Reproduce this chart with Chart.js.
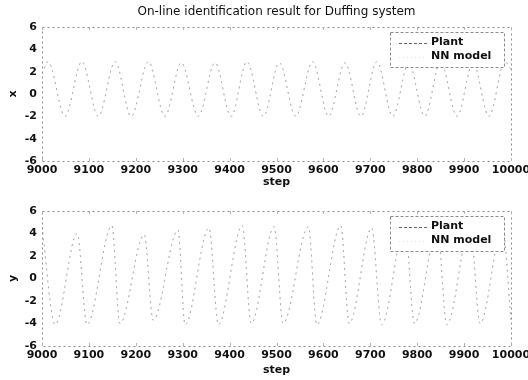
<!DOCTYPE html>
<html>
<head>
<meta charset="utf-8">
<script src="https://cdn.jsdelivr.net/npm/chart.js@4.4.0/dist/chart.umd.min.js"></script>
<style>
  body { margin: 0; background: #fff; }
  #wrap { position: relative; width: 528px; height: 380px; }
  canvas { position: absolute; left: 0; }
</style>
</head>
<body>
<div id="wrap">
  <canvas id="topChart" width="528" height="190" style="top:0"></canvas>
  <canvas id="bottomChart" width="528" height="190" style="top:190px"></canvas>
</div>
<script>
// tick labels
const stepTicks = [9000, 9100, 9200, 9300, 9400, 9500, 9600, 9700, 9800, 9900, 10000];
const valueTicks = [-6, -4, -2, 0, 2, 4, 6];

// x state: turning points
const xSteps = [9000, 9013, 9049, 9085, 9120, 9156, 9190, 9227, 9262, 9297, 9333, 9369, 9403, 9437, 9472, 9506,
                9541, 9577, 9611, 9646, 9680, 9714, 9748, 9782, 9816, 9850, 9885, 9919, 9953, 9987, 10000];
const xPlant = [1.8, 2.9, -2.0, 2.9, -2.0, 2.9, -2.0, 2.9, -2.0, 2.8, -2.0, 2.8, -2.0, 2.9, -2.0, 2.8,
                -2.0, 2.9, -2.0, 2.8, -2.0, 2.9, -2.0, 2.8, -2.0, 2.9, -2.0, 2.8, -2.0, 2.9, 2.2];
const xModel = [1.8, 2.9, -2.0, 2.9, -2.0, 2.9, -2.0, 2.9, -2.0, 2.8, -2.0, 2.8, -2.0, 2.9, -2.0, 2.8,
                -2.0, 2.9, -2.0, 2.8, -2.0, 2.9, -2.0, 2.8, -2.0, 2.9, -2.0, 2.8, -2.0, 2.9, 2.2];

// y state: turning points
const ySteps = [9000, 9028, 9075, 9096, 9149, 9166, 9218, 9237, 9290, 9305, 9356, 9376, 9427, 9446, 9495,
                9514, 9568, 9586, 9637, 9655, 9703, 9724, 9774, 9794, 9843, 9863, 9913, 9934, 9982, 10000];
const yPlant = [4.6, -4.1, 4.0, -4.1, 4.7, -4.0, 3.9, -3.7, 4.3, -4.1, 4.5, -4.1, 4.7, -4.0, 4.6,
                -4.0, 4.6, -4.1, 4.7, -4.0, 4.5, -4.1, 4.6, -4.0, 4.5, -4.1, 4.6, -4.0, 4.5, -3.8];
const yModel = [4.6, -4.1, 4.0, -4.1, 4.7, -4.0, 3.9, -3.7, 4.3, -4.1, 4.5, -4.1, 4.7, -4.0, 4.6,
                -4.0, 4.6, -4.1, 4.7, -4.0, 4.5, -4.1, 4.6, -4.0, 4.5, -4.1, 4.6, -4.0, 4.5, -3.8];

Chart.defaults.font.family = "'DejaVu Sans', sans-serif";
Chart.defaults.color = '#111';
Chart.defaults.animation = false;

function pts(steps, vals) {
    return steps.map((s, i) => ({ x: s, y: vals[i] }));
}

// dotted box round the plot with small inward ticks, title centred over the axes
const boxPlugin = {
    id: 'box',
    afterDatasetsDraw(chart, args, opts) {
        const { ctx, chartArea: a, scales } = chart;
        ctx.save();
        ctx.strokeStyle = '#8c8c8c';
        ctx.lineWidth = 1;
        ctx.setLineDash([2, 3]);
        ctx.strokeRect(a.left + 0.5, a.top + 0.5, a.width, a.height);
        ctx.setLineDash([]);
        ctx.strokeStyle = '#b5b5b5';
        scales.x.ticks.forEach(t => {
            const px = Math.round(scales.x.getPixelForValue(t.value)) + 0.5;
            ctx.beginPath();
            ctx.moveTo(px, a.top); ctx.lineTo(px, a.top + 3);
            ctx.moveTo(px, a.bottom); ctx.lineTo(px, a.bottom - 3);
            ctx.stroke();
        });
        if (opts.text) {
            ctx.font = "12px 'DejaVu Sans'";
            ctx.fillStyle = '#111';
            ctx.textAlign = 'center';
            ctx.textBaseline = 'middle';
            ctx.fillText(opts.text, (a.left + a.right) / 2, 12);
        }
        ctx.restore();
    }
};

// MATLAB style legend box in the upper right corner
const legendPlugin = {
    id: 'boxLegend',
    afterDraw(chart) {
        const { ctx, chartArea: a } = chart;
        const left = a.right - 121, top = a.top + 5, w = 114, h = 35;
        ctx.save();
        ctx.fillStyle = '#fff';
        ctx.fillRect(left, top, w, h);
        ctx.strokeStyle = '#8c8c8c';
        ctx.lineWidth = 1;
        ctx.setLineDash([3, 2]);
        ctx.strokeRect(left + 0.5, top + 0.5, w, h);
        ctx.font = "bold 11px 'DejaVu Sans'";
        ctx.textBaseline = 'middle';
        chart.data.datasets.forEach((ds, i) => {
            const cy = top + 10.5 + i * 14;
            ctx.strokeStyle = ds.legendColor;
            ctx.setLineDash(ds.legendDash);
            ctx.beginPath();
            ctx.moveTo(left + 9, Math.round(cy) + 0.5);
            ctx.lineTo(left + 37, Math.round(cy) + 0.5);
            ctx.stroke();
            ctx.fillStyle = '#111';
            ctx.fillText(ds.label, left + 41, cy);
        });
        ctx.restore();
    }
};

function makeChart(id, steps, plant, model, axisName, opts) {
    new Chart(document.getElementById(id), {
        type: 'line',
        data: {
            datasets: [{
                label: 'Plant',
                data: pts(steps, plant),
                borderColor: '#ababab',
                borderDash: [2, 4],
                legendColor: '#666',
                legendDash: [3, 2],
                borderWidth: 1,
                pointRadius: 0,
                cubicInterpolationMode: 'monotone'
            }, {
                label: 'NN model',
                data: pts(steps, model),
                borderColor: '#cfcfcf',
                borderDash: [1, 5],
                legendColor: '#e0e0e0',
                legendDash: [1, 3],
                borderWidth: 1,
                pointRadius: 0,
                cubicInterpolationMode: 'monotone'
            }]
        },
        options: {
            responsive: false,
            layout: { padding: { top: opts.padTop, right: 17, left: 0, bottom: 0 } },
            plugins: {
                legend: { display: false },
                tooltip: { enabled: false },
                title: { display: false },
                box: { text: opts.title }
            },
            scales: {
                x: {
                    type: 'linear',
                    min: 9000,
                    max: 10000,
                    grid: { display: false, drawTicks: false },
                    border: { display: false },
                    afterBuildTicks: s => { s.ticks = stepTicks.map(v => ({ value: v })); },
                    afterFit: s => {
                        s.height = opts.xHeight;
                        s.paddingLeft = 0; s.paddingRight = 0;
                    },
                    ticks: {
                        font: { size: 11, weight: 'bold' }, padding: 3, maxRotation: 0, autoSkip: false,
                        callback: v => String(v)
                    },
                    title: { display: true, text: 'step', font: { size: 11, weight: 'bold' }, padding: opts.stepPad }
                },
                y: {
                    min: -6,
                    max: 6,
                    grid: { display: false, drawTicks: false },
                    border: { display: false },
                    afterBuildTicks: s => { s.ticks = valueTicks.map(v => ({ value: v })); },
                    afterFit: s => {
                        s.width = 42;
                        s.paddingTop = 0; s.paddingBottom = 0;
                    },
                    ticks: { font: { size: 11, weight: 'bold' }, padding: 5, callback: v => String(v) },
                    title: { display: true, text: axisName, font: { size: 11, weight: 'bold' }, padding: 6.4 }
                }
            }
        },
        plugins: [boxPlugin, legendPlugin]
    });
}

makeChart('topChart', xSteps, xPlant, xModel, 'x', {
    title: 'On-line identification result for Duffing system',
    padTop: 27, xHeight: 29, stepPad: 1.4
});
makeChart('bottomChart', ySteps, yPlant, yModel, 'y', {
    title: '',
    padTop: 21, xHeight: 34, stepPad: 3.4
});
</script>
</body>
</html>
